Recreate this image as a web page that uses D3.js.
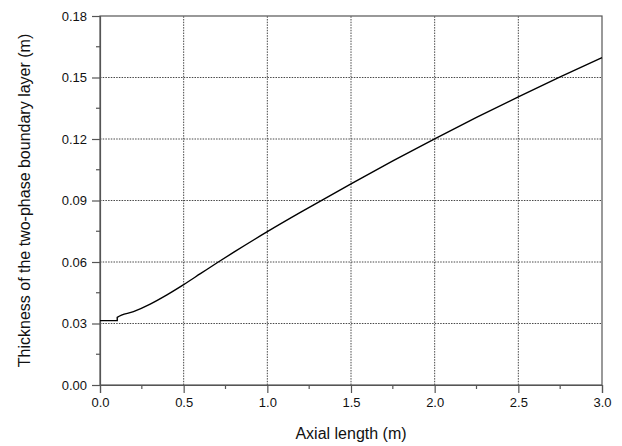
<!DOCTYPE html>
<html><head><meta charset="utf-8">
<script src="https://cdn.jsdelivr.net/npm/d3@7/dist/d3.min.js"></script>
<style>body{margin:0;background:#fff;} svg{display:block;}</style>
</head><body>
<script>
const axialLength = [0, 0.05, 0.103, 0.103, 0.2, 0.3, 0.4, 0.5, 0.6, 0.707, 0.8, 1.0, 1.2, 1.325, 1.5, 1.75, 2.0, 2.25, 2.5, 2.75, 3.0];
const thickness  = [0.0314, 0.0314, 0.0314, 0.0330, 0.0358, 0.0395, 0.0440, 0.0490, 0.0543, 0.0600, 0.0648, 0.0748, 0.0843, 0.0901, 0.0981, 0.1093, 0.1201, 0.1305, 0.1405, 0.1503, 0.1597];
const xTicks = [0, 0.5, 1.0, 1.5, 2.0, 2.5, 3.0];
const yTicks = [0, 0.03, 0.06, 0.09, 0.12, 0.15, 0.18];
const xTitle = "Axial length (m)";
const yTitle = "Thickness of the two-phase boundary layer (m)";

const W = 622, H = 446;
const m = {l: 100, r: 20, t: 16, b: 61};
const svg = d3.select("body").append("svg").attr("width", W).attr("height", H);
const x = d3.scaleLinear().domain([0, 3]).range([m.l, W - m.r]);
const y = d3.scaleLinear().domain([0, 0.18]).range([H - m.b, m.t]);
const font = "'Liberation Sans', Arial, sans-serif";

// grid
const g = svg.append("g");
g.selectAll(".gx").data(xTicks.slice(1, -1)).enter().append("line")
  .attr("x1", d => x(d)).attr("x2", d => x(d)).attr("y1", y(0)).attr("y2", y(0.18))
  .attr("stroke", "#333").attr("stroke-width", 0.9).attr("stroke-dasharray", "1.5,1.2");
g.selectAll(".gy").data(yTicks.slice(1, -1)).enter().append("line")
  .attr("x1", x(0)).attr("x2", x(3)).attr("y1", d => y(d)).attr("y2", d => y(d))
  .attr("stroke", "#333").attr("stroke-width", 0.9).attr("stroke-dasharray", "1.5,1.2");

// frame
svg.append("rect").attr("x", x(0)).attr("y", y(0.18)).attr("width", x(3) - x(0)).attr("height", y(0) - y(0.18))
  .attr("fill", "none").attr("stroke", "#555").attr("stroke-width", 1.2);

// minor ticks
const xMinor = d3.range(0.25, 3, 0.5);
const yMinor = d3.range(0.015, 0.18, 0.03);
svg.selectAll(".mx").data(xMinor).enter().append("line")
  .attr("x1", d => x(d)).attr("x2", d => x(d)).attr("y1", y(0)).attr("y2", y(0) + 4)
  .attr("stroke", "#555").attr("stroke-width", 1.2);
svg.selectAll(".my").data(yMinor).enter().append("line")
  .attr("x1", x(0) - 4).attr("x2", x(0)).attr("y1", d => y(d)).attr("y2", d => y(d))
  .attr("stroke", "#555").attr("stroke-width", 1.2);

// axes
const xAxis = d3.axisBottom(x).tickValues(xTicks).tickFormat(d3.format(".1f")).tickSize(8).tickPadding(5);
const yAxis = d3.axisLeft(y).tickValues(yTicks).tickFormat(d3.format(".2f")).tickSize(8).tickPadding(5);
const gx = svg.append("g").attr("transform", `translate(0,${y(0)})`).call(xAxis);
const gy = svg.append("g").attr("transform", `translate(${x(0)},0)`).call(yAxis);
[gx, gy].forEach(a => {
  a.select(".domain").attr("stroke", "#555").attr("stroke-width", 1.2);
  a.selectAll(".tick line").attr("stroke", "#555").attr("stroke-width", 1.2);
  a.selectAll("text").attr("font-family", font).attr("font-size", 13).attr("fill", "#111");
});

// curve
svg.append("path")
  .datum(axialLength.map((d, i) => [d, thickness[i]]))
  .attr("fill", "none").attr("stroke", "#000").attr("stroke-width", 1.4)
  .attr("d", d3.line().x(d => x(d[0])).y(d => y(d[1])).curve(d3.curveMonotoneX));

// titles
svg.append("text").attr("x", (x(0) + x(3)) / 2).attr("y", 439).attr("text-anchor", "middle")
  .attr("font-family", font).attr("font-size", 16).attr("fill", "#111").text(xTitle);
svg.append("text").attr("transform", `translate(30,${(y(0) + y(0.18)) / 2}) rotate(-90)`)
  .attr("text-anchor", "middle").attr("font-family", font).attr("font-size", 16).attr("fill", "#111").text(yTitle);
</script>
</body></html>
